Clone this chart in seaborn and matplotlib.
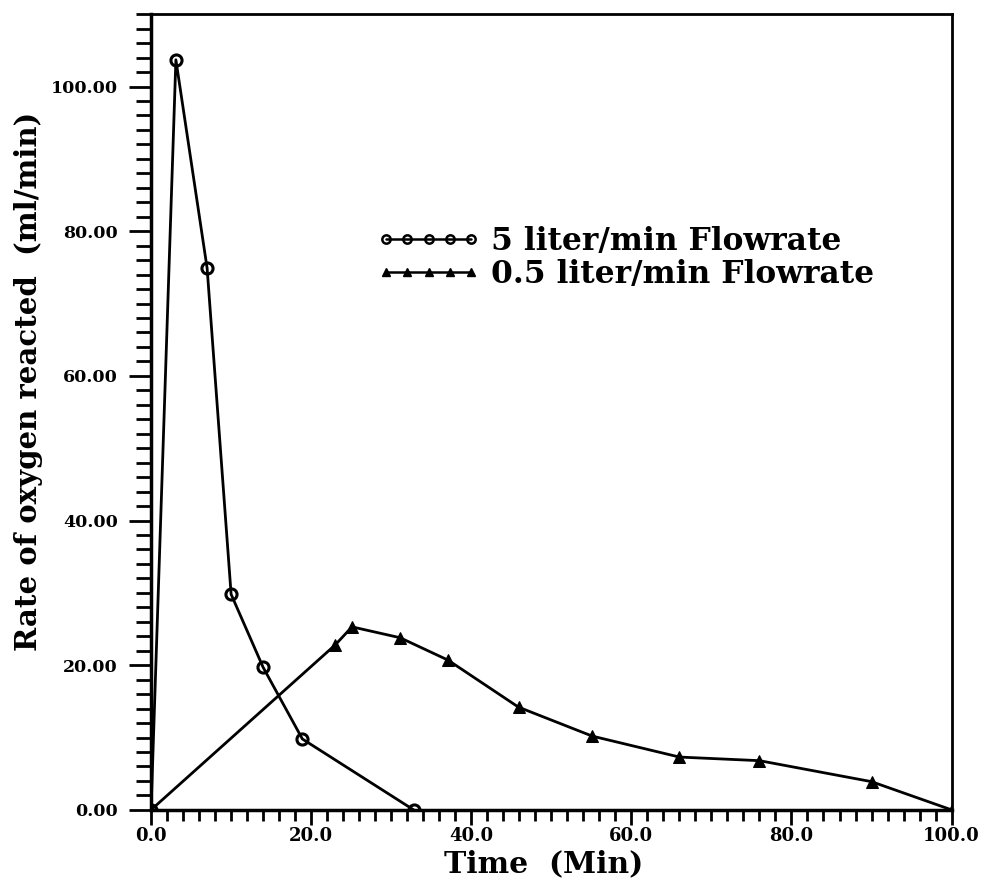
import matplotlib
matplotlib.use("Agg")
import matplotlib.pyplot as plt
import seaborn as sns
import numpy as np
import pandas as pd
from matplotlib.lines import Line2D
from matplotlib.ticker import MultipleLocator, FormatStrFormatter

# Data
time_5 = [0.0, 3.1, 7.0, 10.0, 14.0, 18.9, 32.8]
rate_5 = [0.0, 103.7, 74.9, 29.8, 19.7, 9.8, 0.0]
time_05 = [0.0, 23.0, 25.1, 31.1, 37.1, 45.9, 55.1, 66.0, 76.0, 90.0, 100.0]
rate_05 = [0.0, 22.8, 25.3, 23.8, 20.7, 14.2, 10.2, 7.3, 6.8, 3.9, 0.0]
series_names = ["5 liter/min Flowrate", "0.5 liter/min Flowrate"]
x_label = "Time  (Min)"
y_label = "Rate of oxygen reacted  (ml/min)"

sns.set_style("ticks")
plt.rcParams["font.family"] = ["DejaVu Serif"]
plt.rcParams["font.weight"] = "bold"
plt.rcParams["text.color"] = "black"
plt.rcParams["axes.labelcolor"] = "black"

fig = plt.figure(figsize=(9.81, 8.88), dpi=100)
ax = fig.add_axes([0.154, 0.088, 0.816, 0.896])

sns.lineplot(x=time_5, y=rate_5, ax=ax, color="black", linewidth=2,
             marker="o", markersize=8, markerfacecolor="none",
             markeredgecolor="black", markeredgewidth=2.2)
sns.lineplot(x=time_05, y=rate_05, ax=ax, color="black", linewidth=2,
             marker="^", markersize=8, markerfacecolor="black",
             markeredgecolor="black")

ax.set_xlim(0, 100)
ax.set_ylim(0, 110)
ax.xaxis.set_major_locator(MultipleLocator(20))
ax.xaxis.set_minor_locator(MultipleLocator(2))
ax.yaxis.set_major_locator(MultipleLocator(20))
ax.yaxis.set_minor_locator(MultipleLocator(2))
ax.xaxis.set_major_formatter(FormatStrFormatter("%.1f"))
ax.yaxis.set_major_formatter(FormatStrFormatter("%.2f"))
ax.set_yticks([0, 20, 40, 60, 80, 100])

ax.tick_params(axis="both", which="both", colors="black", width=2, direction="out")
ax.tick_params(axis="y", which="major", length=16, labelsize=12.5, pad=8)
ax.tick_params(axis="y", which="minor", length=11)
ax.tick_params(axis="x", which="major", length=11, labelsize=13, pad=1)
ax.tick_params(axis="x", which="minor", length=8)
for lab in ax.get_xticklabels() + ax.get_yticklabels():
    lab.set_fontweight("bold")

for side in ["left", "bottom"]:
    ax.spines[side].set_linewidth(2.5)
    ax.spines[side].set_color("black")
for side in ["top", "right"]:
    ax.spines[side].set_linewidth(2)
    ax.spines[side].set_color("black")
    ax.spines[side].set_visible(True)

ax.set_xlabel(x_label, fontsize=21.5, fontweight="bold")
ax.xaxis.set_label_coords(0.49, -0.049)
ax.set_ylabel(y_label, fontsize=21, fontweight="bold")
ax.yaxis.set_label_coords(-0.135, 0.538)

handles = [
    Line2D([], [], color="black", linewidth=1.8, marker="o", markersize=6,
           markerfacecolor="none", markeredgewidth=1.8),
    Line2D([], [], color="black", linewidth=1.8, marker="^", markersize=6,
           markerfacecolor="black"),
]
leg = ax.legend(handles, series_names, loc="upper left",
                bbox_to_anchor=(377 / 981, 1 - 226 / 888),
                bbox_transform=fig.transFigure, frameon=False,
                numpoints=5, handlelength=3.3, handletextpad=0.35,
                labelspacing=0.05, borderaxespad=0, borderpad=0,
                prop={"size": 22.5, "weight": "bold"})
for t in leg.get_texts():
    t.set_color("black")

fig.savefig("out.png", dpi=100)
